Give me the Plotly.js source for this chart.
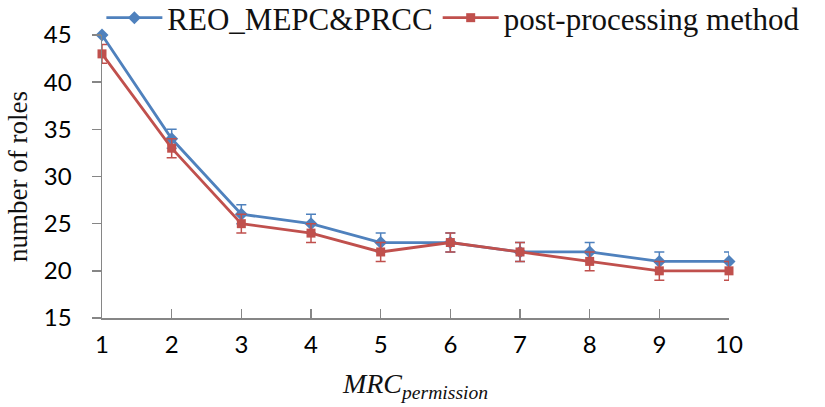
<!DOCTYPE html>
<html>
<head>
<meta charset="utf-8">
<script src="https://cdn.plot.ly/plotly-3.0.1.min.js"></script>
<style>html,body{margin:0;padding:0;background:#fff;}#chart{width:825px;height:407px;}</style>
</head>
<body>
<div id="chart"></div>
<script>
const categories = [1, 2, 3, 4, 5, 6, 7, 8, 9, 10];
const reoValues = [45, 34, 26, 25, 23, 23, 22, 22, 21, 21];
const reoErrors = [0, 1, 1, 1, 1, 1, 1, 1, 1, 1];
const postValues = [43, 33, 25, 24, 22, 23, 22, 21, 20, 20];
const postErrors = [1, 1, 1, 1, 1, 1, 1, 1, 1, 1];
const seriesNames = ['REO_MEPC&amp;PRCC', 'post-processing method'];

const blue = '#4F81BD';
const red = '#C0504D';

const traces = [
  {
    x: categories, y: reoValues, name: seriesNames[0], type: 'scatter', mode: 'lines+markers',
    line: {color: blue, width: 2.8},
    marker: {symbol: 'diamond', size: 10, color: blue},
    error_y: {type: 'data', array: reoErrors, visible: true, color: blue, thickness: 1.5, width: 5},
    cliponaxis: false
  },
  {
    x: categories, y: postValues, name: seriesNames[1], type: 'scatter', mode: 'lines+markers',
    line: {color: red, width: 2.8},
    marker: {symbol: 'square', size: 9, color: red},
    error_y: {type: 'data', array: postErrors, visible: true, color: red, thickness: 1.5, width: 5},
    cliponaxis: false
  }
];

const layout = {
  width: 825, height: 407,
  margin: {l: 102, r: 96, t: 35, b: 89, pad: 0, autoexpand: false},
  paper_bgcolor: '#fff', plot_bgcolor: '#fff',
  showlegend: true,
  legend: {
    orientation: 'h', x: -0.001, xanchor: 'left', y: 1.06, yanchor: 'middle',
    itemwidth: 56,
    font: {family: 'Liberation Serif, DejaVu Serif, serif', size: 31, color: '#111'},
    bgcolor: 'rgba(0,0,0,0)'
  },
  xaxis: {
    range: [1, 10], tickvals: categories, ticktext: categories.map(String),
    showgrid: false, zeroline: false, automargin: false,
    showline: true, linecolor: '#868686', linewidth: 1.5,
    ticks: 'inside', ticklen: 9, tickcolor: '#868686', tickwidth: 1.5,
    ticklabelstandoff: 5,
    tickfont: {family: 'Lato, Open Sans, sans-serif', size: 24, color: '#000'},
    title: {text: '<i>MRC<sub>permission</sub></i>', font: {family: 'Liberation Serif, DejaVu Serif, serif', size: 28, color: '#111'}, standoff: 16}
  },
  yaxis: {
    range: [15, 45], dtick: 5, tick0: 15,
    showgrid: false, zeroline: false, automargin: false,
    showline: true, linecolor: '#868686', linewidth: 1.5,
    ticks: 'outside', ticklen: 9, tickcolor: '#868686', tickwidth: 1.5,
    ticklabelstandoff: 15,
    tickfont: {family: 'Lato, Open Sans, sans-serif', size: 24, color: '#000'},
    title: {text: 'number of roles', font: {family: 'Liberation Serif, DejaVu Serif, serif', size: 27, color: '#111'}, standoff: 8}
  }
};

Plotly.newPlot('chart', traces, layout, {displayModeBar: false, staticPlot: true});
</script>
</body>
</html>
